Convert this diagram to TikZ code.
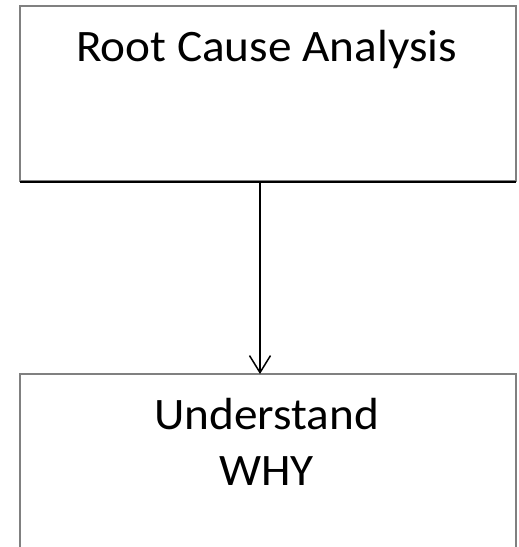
\documentclass[tikz,border=0pt]{standalone}
\usepackage{fontspec}
\setmainfont{Carlito}
\usetikzlibrary{arrows.meta,calc}
\begin{document}
\begin{tikzpicture}[x=1pt,y=-1pt,
  boxstyle/.style={draw=black!50,line width=2pt,rectangle,inner sep=0pt},
  lbl/.style={font=\fontsize{45}{56}\selectfont,inner sep=0pt,anchor=base,xscale=1.05,transform shape},
  conn/.style={line width=1.5pt,-{Straight Barb[length=17pt,width=21pt,line width=1.5pt]}}]
\useasboundingbox (0,0) rectangle (519,547);
\begin{scope}
\clip (0,0) rectangle (519,547);
\node[boxstyle,minimum width=496pt,minimum height=175pt] (top) at (268,93.5) {};
\draw[black,line width=1.5pt,shorten <=1pt,shorten >=1pt] (top.south west) -- (top.south east);
\node[boxstyle,minimum width=496pt,minimum height=200pt] (bot) at (268,474) {};
\end{scope}
\node[lbl] (t1) at (266.5,61) {Root Cause Analysis};
\node[lbl] (t2) at (266.5,429) {Understand};
\node[lbl] (t3) at (266.5,485) {WHY};
\coordinate (ax) at (260,0);
\draw[conn] (top.south -| ax) -- ([yshift=-1pt]bot.north -| ax);
\end{tikzpicture}
\end{document}
